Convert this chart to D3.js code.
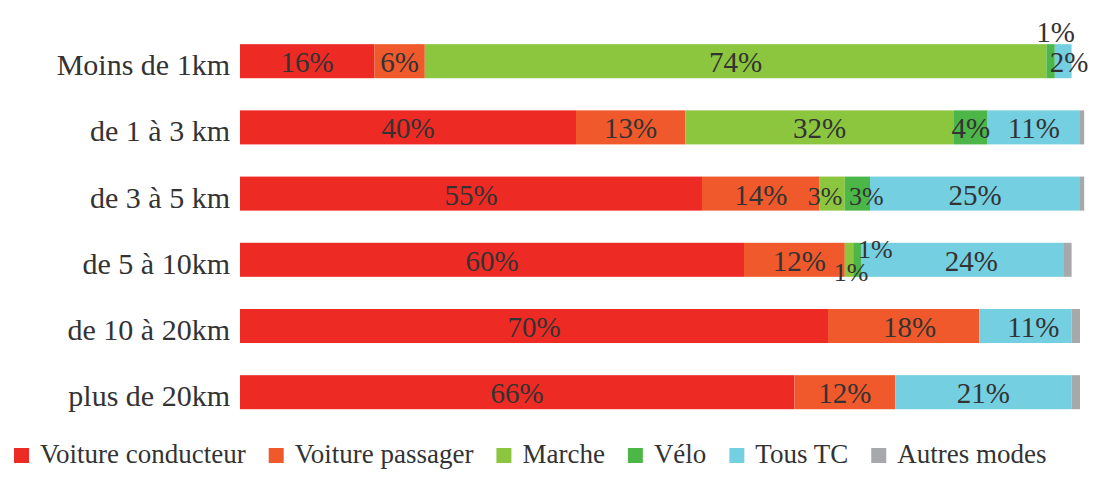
<!DOCTYPE html>
<html>
<head>
<meta charset="utf-8">
<script src="https://cdn.jsdelivr.net/npm/d3@7"></script>
<style>
  html, body { margin: 0; padding: 0; background: #ffffff; }
  svg { display: block; }
  text { font-family: "Liberation Serif", "Times New Roman", serif; fill: #333333; }
</style>
</head>
<body>
<svg id="chart" width="1094" height="479"></svg>
<script>
// Distance bands (rows, top to bottom)
const categories = ["Moins de 1km", "de 1 à 3 km", "de 3 à 5 km", "de 5 à 10km", "de 10 à 20km", "plus de 20km"];

// Transport modes (stack order, left to right)
const modes = ["Voiture conducteur", "Voiture passager", "Marche", "Vélo", "Tous TC", "Autres modes"];
const modeColors = ["#ee2a24", "#f0592b", "#8cc63f", "#4cb748", "#74cfe0", "#a6a8ab"];

// Share of trips per mode (%), one value per distance band
const voitureConducteur = [16, 40, 55, 60, 70, 66];
const voiturePassager   = [6, 13, 14, 12, 18, 12];
const marche            = [74, 32, 3, 1, 0, 0];
const velo              = [1, 4, 3, 1, 0, 0];
const tousTC            = [2, 11, 25, 24, 11, 21];
const autresModes       = [0, 0.5, 0.5, 1, 1, 1];

const seriesValues = [voitureConducteur, voiturePassager, marche, velo, tousTC, autresModes];

// Rows for the stack generator
const rows = categories.map((c, i) => {
  const r = { category: c };
  modes.forEach((m, j) => { r[m] = seriesValues[j][i]; });
  return r;
});

const svg = d3.select("#chart");

const x = d3.scaleLinear().domain([0, 100]).range([240, 1080]);
const y = d3.scaleBand().domain(categories).range([12, 441.4]).padding(0.486);
const color = d3.scaleOrdinal().domain(modes).range(modeColors);

const stacked = d3.stack().keys(modes)(rows);

// Bars
const layers = svg.append("g").selectAll("g")
  .data(stacked)
  .join("g")
  .attr("fill", d => color(d.key));

layers.selectAll("rect")
  .data(d => d.map(s => ({ key: d.key, s })))
  .join("rect")
  .attr("x", d => x(d.s[0]))
  .attr("y", d => y(d.s.data.category))
  .attr("width", d => Math.max(0, x(d.s[1]) - x(d.s[0])))
  .attr("height", y.bandwidth());

// Value labels; tiny segments get their label nudged off the bar
const nudge = {
  "Moins de 1km|Vélo": [5, -30],
  "Moins de 1km|Tous TC": [6, 0],
  "de 3 à 5 km|Marche": [-7, 0],
  "de 3 à 5 km|Vélo": [9, 0],
  "de 5 à 10km|Voiture passager": [5, 0],
  "de 5 à 10km|Marche": [2, 10],
  "de 5 à 10km|Vélo": [18, -13],
  "de 5 à 10km|Tous TC": [9, 0],
  "de 10 à 20km|Voiture passager": [6, 0],
  "de 10 à 20km|Tous TC": [8, 0]
};
const smallLabel = new Set(["de 5 à 10km|Marche", "de 5 à 10km|Vélo", "de 3 à 5 km|Marche", "de 3 à 5 km|Vélo"]);

const labels = [];
stacked.forEach(layer => {
  if (layer.key === "Autres modes") return;
  layer.forEach(s => {
    const v = s.data[layer.key];
    if (!v) return;
    const k = s.data.category + "|" + layer.key;
    const off = nudge[k] || [0, 0];
    labels.push({
      text: v + "%",
      small: smallLabel.has(k),
      x: (x(s[0]) + x(s[1])) / 2 + off[0],
      y: y(s.data.category) + y.bandwidth() / 2 + 11 + off[1]
    });
  });
});

svg.append("g").selectAll("text")
  .data(labels)
  .join("text")
  .attr("x", d => d.x)
  .attr("y", d => d.y)
  .attr("text-anchor", "middle")
  .style("font-size", d => d.small ? "26px" : "29px")
  .text(d => d.text);

// Category axis (labels only)
const yAxis = svg.append("g")
  .attr("transform", "translate(240,0)")
  .call(d3.axisLeft(y).tickSize(0).tickPadding(10));
yAxis.select(".domain").remove();
yAxis.selectAll("text")
  .attr("dy", null)
  .attr("y", 0)
  .attr("transform", "translate(0,14)")
  .style("font-size", "30px")
  .style("font-family", "'Liberation Serif', 'Times New Roman', serif")
  .style("fill", "#333333");

// Legend, laid out left to right
const legend = svg.append("g");
let lx = 14;
const sq = 15;
modes.forEach(m => {
  legend.append("rect")
    .attr("x", lx).attr("y", 448)
    .attr("width", sq).attr("height", sq)
    .attr("fill", color(m));
  const t = legend.append("text")
    .attr("x", lx + sq + 11).attr("y", 463)
    .style("font-size", "27px")
    .text(m);
  const w = t.node().getComputedTextLength();
  lx += sq + 11 + w + 23;
});
</script>
</body>
</html>
